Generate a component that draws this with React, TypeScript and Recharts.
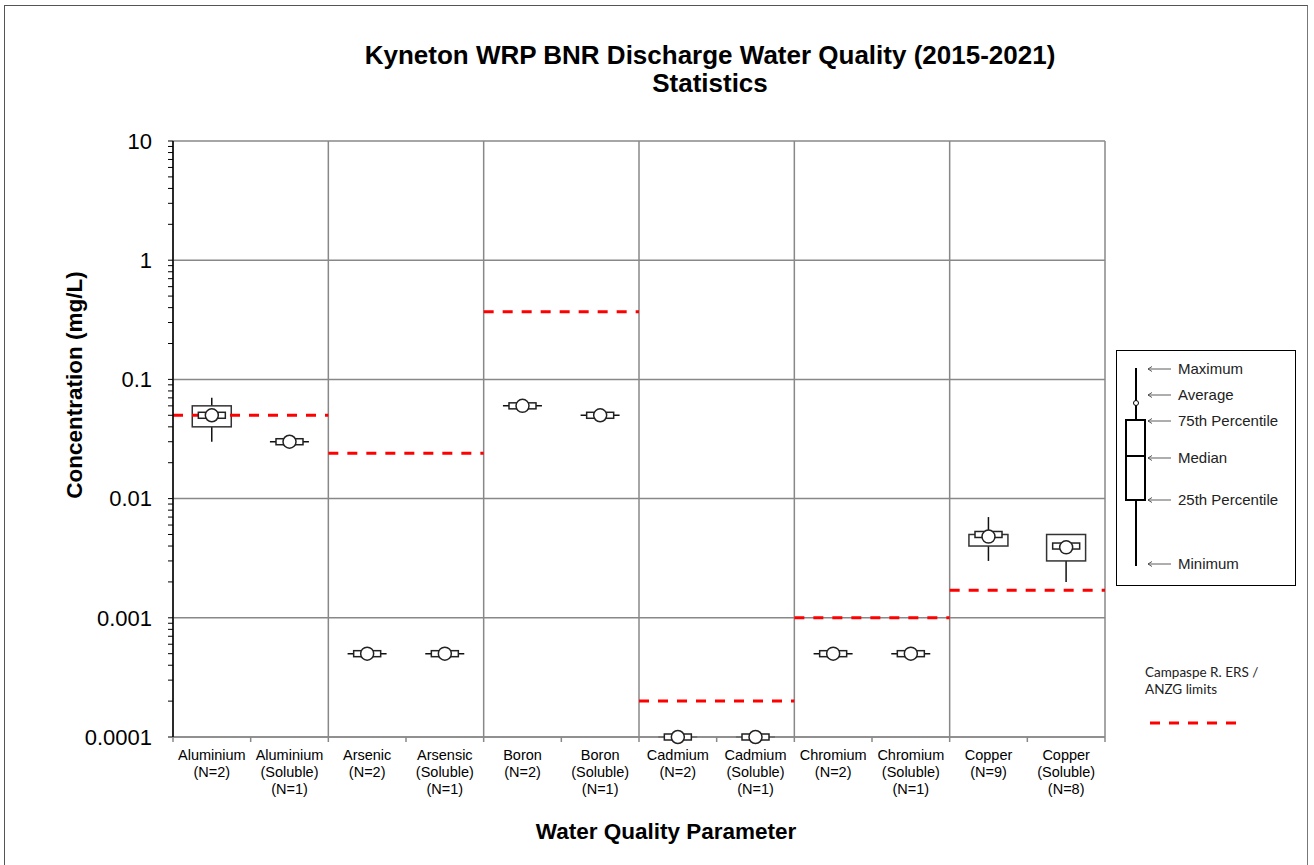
import React from 'react';
import {
  ComposedChart,
  Bar,
  Line,
  XAxis,
  YAxis,
  CartesianGrid,
  ReferenceLine,
} from 'recharts';

// parameters, in plotting order
const parameterNames = [
  'Aluminium', 'Aluminium', 'Arsenic', 'Arsensic', 'Boron', 'Boron',
  'Cadmium', 'Cadmium', 'Chromium', 'Chromium', 'Copper', 'Copper',
];
const solubleFlags = [false, true, false, true, false, true, false, true, false, true, false, true];
const sampleCounts = [2, 1, 2, 1, 2, 1, 2, 1, 2, 1, 9, 8];

// statistics (mg/L)
const minValues = [0.03, 0.03, 0.0005, 0.0005, 0.06, 0.05, 0.0001, 0.0001, 0.0005, 0.0005, 0.003, 0.002];
const q1Values = [0.04, 0.03, 0.0005, 0.0005, 0.06, 0.05, 0.0001, 0.0001, 0.0005, 0.0005, 0.004, 0.003];
const medianValues = [0.05, 0.03, 0.0005, 0.0005, 0.06, 0.05, 0.0001, 0.0001, 0.0005, 0.0005, 0.005, 0.004];
const q3Values = [0.06, 0.03, 0.0005, 0.0005, 0.06, 0.05, 0.0001, 0.0001, 0.0005, 0.0005, 0.005, 0.005];
const maxValues = [0.07, 0.03, 0.0005, 0.0005, 0.06, 0.05, 0.0001, 0.0001, 0.0005, 0.0005, 0.007, 0.005];
const averageValues = [0.05, 0.03, 0.0005, 0.0005, 0.06, 0.05, 0.0001, 0.0001, 0.0005, 0.0005, 0.0048, 0.0039];

// Campaspe R. ERS / ANZG limits, each spanning a pair of categories
const limitStart = [0, 2, 4, 6, 8, 10];
const limitEnd = [2, 4, 6, 8, 10, 12];
const limitValues = [0.05, 0.024, 0.37, 0.0002, 0.001, 0.0017];

const yMajorTicks = [0.0001, 0.001, 0.01, 0.1, 1, 10];
const yTickLabels = ['0.0001', '0.001', '0.01', '0.1', '1', '10'];
const yMinorMultipliers = [2, 3, 4, 5, 6, 7, 8, 9];

const categoryEdges = [0, 1, 2, 3, 4, 5, 6, 7, 8, 9, 10, 11, 12];
const categoryCentres = [0.5, 1.5, 2.5, 3.5, 4.5, 5.5, 6.5, 7.5, 8.5, 9.5, 10.5, 11.5];
const gridEdges = [0, 2, 4, 6, 8, 10, 12];

const FONT = '"Liberation Sans", Arial, sans-serif';

const data = parameterNames.map((p, i) => ({
  name: `${p}${solubleFlags[i] ? ' (Soluble)' : ''} (N=${sampleCounts[i]})`,
  pos: categoryCentres[i],
  whisker: [minValues[i], maxValues[i]],
  box: [q1Values[i], q3Values[i]],
  median: medianValues[i],
  average: averageValues[i],
}));

const yTicks = [
  ...yMajorTicks,
  ...yMajorTicks.slice(0, -1).flatMap((d) => yMinorMultipliers.map((m) => m * d)),
].sort((a, b) => a - b);

const labelLines = (i: number) => [
  parameterNames[i],
  ...(solubleFlags[i] ? ['(Soluble)'] : []),
  `(N=${sampleCounts[i]})`,
];

function WhiskerShape(props: any) {
  const { x, y, width, height } = props;
  if (x == null || y == null) return null;
  const cx = x + width / 2;
  const top = Math.min(y, y + height);
  const bottom = Math.max(y, y + height);
  return <line x1={cx} x2={cx} y1={top} y2={bottom} stroke="#111" strokeWidth={1.5} />;
}

function BoxShape(props: any) {
  const { x, y, width, height } = props;
  if (x == null || y == null) return null;
  const cx = x + width / 2;
  const top = Math.min(y, y + height);
  const h = Math.abs(height);
  if (h < 1) {
    return <line x1={cx - 19.5} x2={cx + 19.5} y1={top} y2={top} stroke="#111" strokeWidth={1.5} />;
  }
  return <rect x={cx - 19.5} y={top} width={39} height={h} fill="#fff" stroke="#333" strokeWidth={1.5} />;
}

function YTick(props: any) {
  const { x, y, payload } = props;
  const idx = yMajorTicks.findIndex((t) => Math.abs(Math.log10(t) - Math.log10(payload.value)) < 1e-6);
  if (idx < 0) return null;
  return (
    <text x={x} y={y} dy="0.35em" textAnchor="end" fontSize={22} fontFamily={FONT} fill="#000">
      {yTickLabels[idx]}
    </text>
  );
}

function XTick(props: any) {
  const { x, y, payload } = props;
  const v = payload.value;
  if (Number.isInteger(v)) {
    return <line x1={x} x2={x} y1={y} y2={y + 5} stroke="#888" strokeWidth={1.5} />;
  }
  const i = Math.floor(v);
  return (
    <text x={x} y={y + 23} textAnchor="middle" fontSize={14.5} fontFamily={FONT} fill="#000">
      {labelLines(i).map((line, k) => (
        <tspan key={k} x={x} dy={k === 0 ? 0 : 17}>
          {line}
        </tspan>
      ))}
    </text>
  );
}

function Legend() {
  const arrows = [
    { y: 369, label: 'Maximum' },
    { y: 395, label: 'Average' },
    { y: 421, label: '75th Percentile' },
    { y: 458, label: 'Median' },
    { y: 500, label: '25th Percentile' },
    { y: 564, label: 'Minimum' },
  ];
  return (
    <svg
      width={1314}
      height={865}
      style={{ position: 'absolute', left: 0, top: 0, pointerEvents: 'none' }}
    >
      <rect x={1116.5} y={350.5} width={179} height={235} fill="#fff" stroke="#000" strokeWidth={1} />
      <line x1={1136} x2={1136} y1={368} y2={566} stroke="#000" strokeWidth={2} />
      <rect x={1126} y={420} width={19} height={80} fill="#fff" stroke="#000" strokeWidth={2} />
      <line x1={1127} x2={1144} y1={456} y2={456} stroke="#000" strokeWidth={2} />
      <circle cx={1136} cy={403} r={2.5} fill="#fff" stroke="#000" strokeWidth={1} />
      {arrows.map((a) => (
        <g key={a.label}>
          <line x1={1148} x2={1171} y1={a.y} y2={a.y} stroke="#333" strokeWidth={0.8} />
          <path d={`M1152 ${a.y - 2.5} L1148 ${a.y} L1152 ${a.y + 2.5}`} fill="none" stroke="#333" strokeWidth={0.8} />
          <text
            x={1178}
            y={a.y}
            dy="0.35em"
            fontSize={15}
            fontFamily='"Liberation Sans Narrow", "Arial Narrow", "Liberation Sans", sans-serif'
            fill="#222"
          >
            {a.label}
          </text>
        </g>
      ))}
      <text x={1145} y={677} fontSize={13.5} fontFamily="Lato, 'Open Sans', sans-serif" fill="#222">
        Campaspe R. ERS /
      </text>
      <text x={1145} y={694} fontSize={13.5} fontFamily="Lato, 'Open Sans', sans-serif" fill="#222">
        ANZG limits
      </text>
      <line x1={1150} x2={1240} y1={723} y2={723} stroke="#ff0000" strokeWidth={3} strokeDasharray="10 9" />
    </svg>
  );
}

export default function App() {
  return (
    <div
      style={{
        position: 'absolute',
        left: 0,
        top: 0,
        width: 1314,
        height: 865,
        background: '#fff',
        overflow: 'hidden',
        fontFamily: FONT,
      }}
    >
      {/* outer chart frame */}
      <div
        style={{
          position: 'absolute',
          left: 4,
          top: 5,
          width: 1302,
          height: 880,
          border: '1.5px solid #555',
          borderRightColor: '#777',
        }}
      />

      {/* Title */}
      <div
        style={{
          position: 'absolute',
          left: 310,
          top: 41,
          width: 800,
          textAlign: 'center',
          fontWeight: 'bold',
          fontSize: 26,
          lineHeight: '28px',
          color: '#000',
        }}
      >
        <div>Kyneton WRP BNR Discharge Water Quality (2015-2021)</div>
        <div>Statistics</div>
      </div>

      <div style={{ position: 'absolute', left: 0, top: 0 }}>
        <ComposedChart
          width={1314}
          height={865}
          data={data}
          margin={{ top: 141, right: 209, bottom: 68, left: 83 }}
        >
          <XAxis xAxisId="w" dataKey="name" type="category" hide height={0} />
          <XAxis xAxisId="b" dataKey="name" type="category" hide height={0} />
          <XAxis
            xAxisId="gv"
            dataKey="pos"
            type="number"
            domain={[0, 12]}
            allowDataOverflow
            ticks={gridEdges}
            hide
            height={0}
          />
          <XAxis
            xAxisId="g"
            dataKey="pos"
            type="number"
            domain={[0, 12]}
            allowDataOverflow
            ticks={[...categoryEdges, ...categoryCentres].sort((a, b) => a - b)}
            interval={0}
            tickLine={false}
            tickSize={0}
            tickMargin={0}
            tick={<XTick />}
            axisLine={{ stroke: '#888', strokeWidth: 1.5 }}
            height={60}
          />
          <YAxis
            yAxisId="grid"
            type="number"
            scale="log"
            domain={[0.0001, 10]}
            allowDataOverflow
            ticks={yMajorTicks}
            interval={0}
            hide
            width={0}
          />
          <YAxis
            yAxisId="main"
            type="number"
            scale="log"
            domain={[0.0001, 10]}
            ticks={yTicks}
            interval={0}
            tickSize={5}
            tickMargin={16}
            tick={<YTick />}
            tickLine={{ stroke: '#000', strokeWidth: 1 }}
            axisLine={{ stroke: '#000', strokeWidth: 1.5 }}
            width={90}
          />
          <CartesianGrid xAxisId="gv" yAxisId="grid" stroke="#888" strokeWidth={1.5} />

          <Bar
            xAxisId="w"
            yAxisId="main"
            dataKey="whisker"
            shape={<WhiskerShape />}
            isAnimationActive={false}
          />
          <Bar
            xAxisId="b"
            yAxisId="main"
            dataKey="box"
            shape={<BoxShape />}
            isAnimationActive={false}
          />

          {limitValues.map((v, i) => (
            <ReferenceLine
              key={i}
              xAxisId="gv"
              yAxisId="main"
              segment={[
                { x: limitStart[i], y: v },
                { x: limitEnd[i], y: v },
              ]}
              stroke="#ff0000"
              strokeWidth={3}
              strokeDasharray="10 9"
              ifOverflow="visible"
            />
          ))}

          <Line
            xAxisId="b"
            yAxisId="main"
            dataKey="median"
            stroke="none"
            activeDot={false}
            isAnimationActive={false}
            dot={(p: any) => (
              <rect
                key={`m-${p.index}`}
                x={p.cx - 13.5}
                y={p.cy - 3}
                width={27}
                height={6}
                fill="#fff"
                stroke="#222"
                strokeWidth={1.5}
              />
            )}
          />
          <Line
            xAxisId="b"
            yAxisId="main"
            dataKey="average"
            stroke="none"
            activeDot={false}
            isAnimationActive={false}
            dot={(p: any) => (
              <circle
                key={`a-${p.index}`}
                cx={p.cx}
                cy={p.cy}
                r={6.5}
                fill="#fff"
                stroke="#222"
                strokeWidth={1.5}
              />
            )}
          />
        </ComposedChart>
      </div>

      {/* Axis titles */}
      <div
        style={{
          position: 'absolute',
          left: 75,
          top: 385,
          transform: 'translate(-50%, -50%) rotate(-90deg)',
          whiteSpace: 'nowrap',
          fontWeight: 'bold',
          fontSize: 22.5,
        }}
      >
        Concentration (mg/L)
      </div>
      <div
        style={{
          position: 'absolute',
          left: 666,
          top: 832,
          transform: 'translate(-50%, -50%)',
          whiteSpace: 'nowrap',
          fontWeight: 'bold',
          fontSize: 22.5,
        }}
      >
        Water Quality Parameter
      </div>

      <Legend />
    </div>
  );
}
